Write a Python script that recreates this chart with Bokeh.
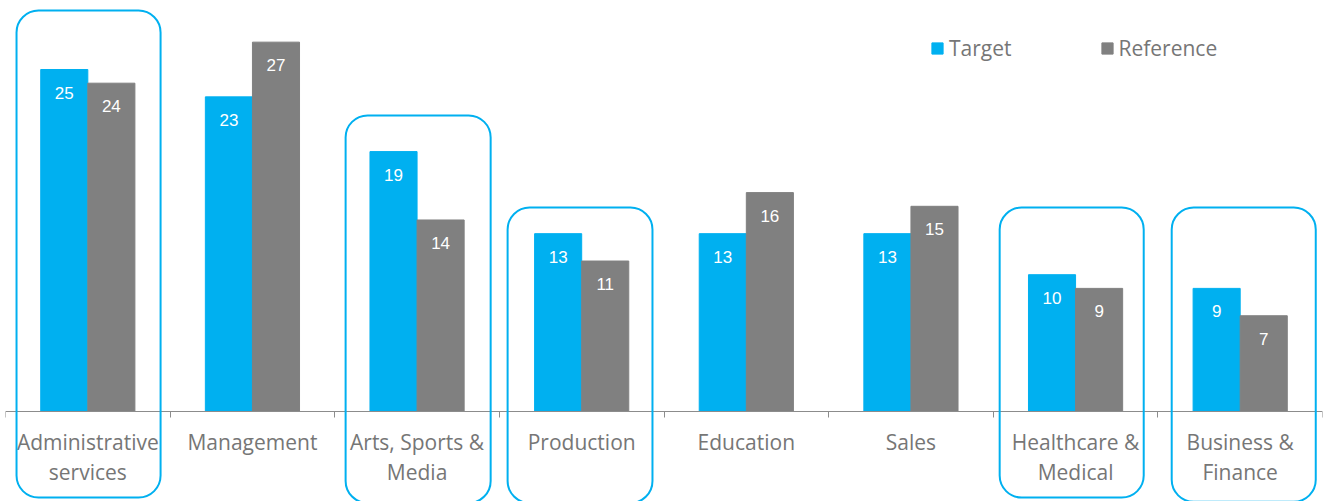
from bokeh.plotting import figure
from bokeh.models import (ColumnDataSource, Range1d, FixedTicker, LabelSet,
                          BoxAnnotation, Legend, LegendItem)
from bokeh.core.properties import value
from bokeh.embed import file_html
from bokeh.resources import INLINE

categories = ["Administrative services", "Management", "Arts, Sports & Media",
              "Production", "Education", "Sales", "Healthcare & Medical",
              "Business & Finance"]
tick_labels = ["Administrative\nservices", "Management", "Arts, Sports &\nMedia",
               "Production", "Education", "Sales", "Healthcare &\nMedical",
               "Business &\nFinance"]
target = [25, 23, 19, 13, 13, 13, 10, 9]
reference = [24, 27, 14, 11, 16, 15, 9, 7]
highlighted = [True, False, True, True, False, False, True, True]

BLUE = "#00B0F0"
GRAY = "#808080"
TEXT = "#767676"
FONT = "Open Sans"

n = len(categories)
centers = [i + 0.5 for i in range(n)]
bw = 0.286

src = ColumnDataSource(dict(
    xt=[c - bw / 2 for c in centers],
    xr=[c + bw / 2 for c in centers],
    target=target, reference=reference,
    tlab=[str(v) for v in target], rlab=[str(v) for v in reference],
))

p = figure(width=1323, height=501, x_range=Range1d(0, n),
           y_range=Range1d(-6.579, 30.044),
           output_backend="svg", toolbar_location=None, y_axis_location=None,
           min_border_left=5, min_border_right=1, min_border_top=0,
           min_border_bottom=0)
p.outline_line_color = None
p.grid.visible = False
p.background_fill_color = "white"
p.border_fill_color = "white"

rt = p.vbar(x="xt", top="target", width=bw, source=src, color=BLUE, line_color=BLUE)
rr = p.vbar(x="xr", top="reference", width=bw, source=src, color=GRAY, line_color=GRAY)

for col, xcol in (("tlab", "xt"), ("rlab", "xr")):
    ycol = "target" if col == "tlab" else "reference"
    p.add_layout(LabelSet(x=xcol, y=ycol, text=col, source=src, y_offset=-23,
                          text_align="center", text_baseline="middle",
                          text_color="white", text_font=value("Liberation Sans"),
                          text_font_size="17px"))

# x axis drawn at y = 0 inside the frame
ax = p.xaxis[0]
ax.fixed_location = 0
ax.ticker = FixedTicker(ticks=centers, minor_ticks=list(range(n + 1)))
ax.major_label_overrides = {c: lab for c, lab in zip(centers, tick_labels)}
ax.major_tick_line_color = None
ax.minor_tick_in = 0
ax.minor_tick_out = 6
ax.minor_tick_line_color = "#8C8C8C"
ax.axis_line_color = "#8C8C8C"
ax.major_label_text_font = FONT
ax.major_label_text_font_size = "21px"
ax.major_label_text_color = TEXT
ax.major_label_text_line_height = 1.05
ax.major_label_standoff = 11

# highlight boxes (left/right offsets within the category, top/bottom in data units)
box_left = {0: 0.067, 2: 0.066, 3: 0.05, 6: 0.039, 7: 0.084}
box_right = {0: 0.942, 2: 0.947, 3: 0.93, 6: 0.914, 7: 0.959}
tops = {0: 29.31, 2: 21.64, 3: 14.91, 6: 14.91, 7: 14.91}
bottoms = {0: -6.29, 2: -6.69, 3: -6.69, 6: -6.29, 7: -6.6}
for i, h in enumerate(highlighted):
    if h:
        p.add_layout(BoxAnnotation(left=i + box_left[i], right=i + box_right[i],
                                   top=tops[i], bottom=bottoms[i],
                                   fill_alpha=0, line_color=BLUE, line_alpha=1,
                                   line_width=2, border_radius=22, level="overlay"))

legend = Legend(items=[LegendItem(label="Target", renderers=[rt]),
                       LegendItem(label="Reference", renderers=[rr])],
                orientation="horizontal", location=(925, 439),
                glyph_width=14, glyph_height=14, label_standoff=5, spacing=88,
                padding=0, margin=0, border_line_color=None,
                background_fill_alpha=0,
                label_text_font=FONT, label_text_font_size="21px",
                label_text_color=TEXT)
p.add_layout(legend)

open("out.html", "w").write(file_html(p, INLINE))
